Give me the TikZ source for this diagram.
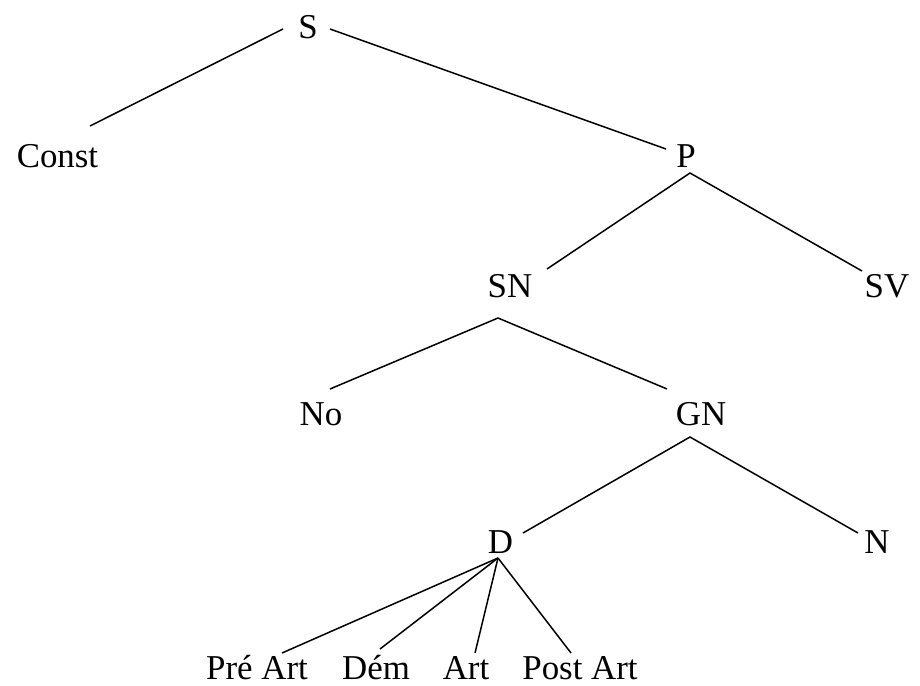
\documentclass[tikz,border=0pt]{standalone}
\usepackage{fontspec}
\setmainfont{Liberation Serif}
\usetikzlibrary{calc}
\begin{document}
\begin{tikzpicture}[x=1bp,y=-1bp,
  lbl/.style={anchor=base,inner sep=0pt,font=\fontsize{35}{40}\selectfont},
  br/.style={line width=1.5bp,black}]
\fill[white] (0,0) rectangle (920,686);
\useasboundingbox (0,0) rectangle (920,686);
\node[lbl] (S) at (308,39) {S};
\node[lbl] (Const) at (57.5,168) {Const};
\node[lbl] (P) at (686,168) {P};
\node[lbl] (SN) at (510,297) {SN};
\node[lbl] (SV) at (887,297) {SV};
\node[lbl] (No) at (321,425) {No};
\node[lbl] (GN) at (701,425) {GN};
\node[lbl] (D) at (500.5,553) {D};
\node[lbl] (N) at (877,553) {N};
\node[lbl] (PreArt) at (257,679) {Pré Art};
\node[lbl] (Dem) at (376,679) {Dém};
\node[lbl] (Art) at (466,679) {Art};
\node[lbl] (PostArt) at (580,679) {Post Art};
\draw[br] ([shift={(-25,-10)}]S.base) -- ([shift={(32.5,-42)}]Const.base);
\draw[br] ([shift={(22,-10)}]S.base) -- ([shift={(-20,-19)}]P.base);
\draw[br] ([shift={(37,-28)}]SN.base) -- ([shift={(4,5)}]P.base) -- ([shift={(-25,-26)}]SV.base);
\draw[br] ([shift={(9,-36)}]No.base) -- ([shift={(-12,21)}]SN.base) -- ([shift={(-34,-36)}]GN.base);
\draw[br] ([shift={(22.5,-20)}]D.base) -- ([shift={(-11,12)}]GN.base) -- ([shift={(-19,-20)}]N.base);
\draw[br] ([shift={(-2.5,5)}]D.base) -- ([shift={(25,-26)}]PreArt.base);
\draw[br] ([shift={(-2.5,5)}]D.base) -- ([shift={(4,-30)}]Dem.base);
\draw[br] ([shift={(-2.5,5)}]D.base) -- ([shift={(9,-26)}]Art.base);
\draw[br] ([shift={(-2.5,5)}]D.base) -- ([shift={(-9,-26)}]PostArt.base);
\end{tikzpicture}
\end{document}
